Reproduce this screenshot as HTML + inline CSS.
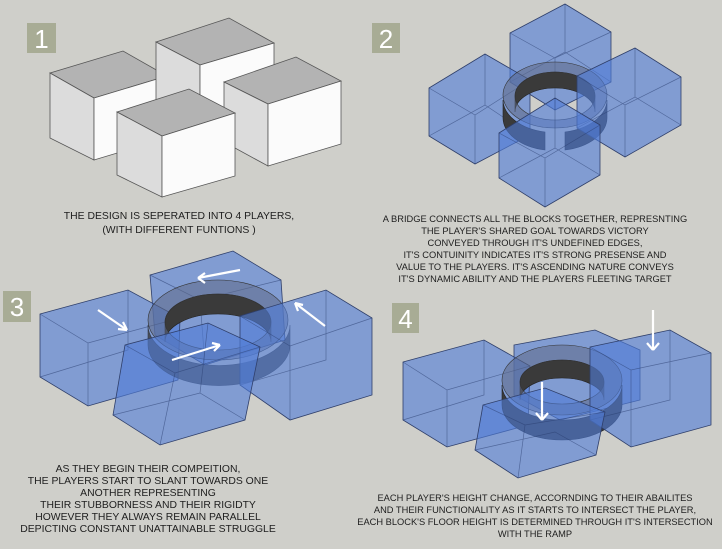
<!DOCTYPE html>
<html><head><meta charset="utf-8"><style>
html,body{margin:0;padding:0;background:#cfcfca;}
svg{display:block}
text{font-family:"Liberation Sans",sans-serif;font-size:9.3px;fill:#1e1e1e;text-anchor:middle}
.big{font-size:10.4px}
.lb{font-size:26px;fill:#fff;text-anchor:middle}
.b{fill:rgba(80,125,215,0.62);stroke:#2f3f6a;stroke-width:0.8}
.e{fill:none;stroke:rgba(40,60,110,0.55);stroke-width:0.7}
.r{fill:#3a3a3a;stroke:#222;stroke-width:0.6}
.t{fill:rgba(95,105,135,0.55);stroke:#333;stroke-width:0.6;fill-rule:evenodd}
.a{stroke:#fff;stroke-width:2.2;fill:none}
</style></head><body>
<svg width="722" height="549" viewBox="0 0 722 549">
<rect width="722" height="549" fill="#cfcfca"/>
<rect x="27" y="23" width="29" height="30" fill="#a8ac95"/><text class="lb" x="41.5" y="48">1</text>
<rect x="372" y="23" width="28" height="30" fill="#a8ac95"/><text class="lb" x="386" y="48">2</text>
<rect x="3" y="291" width="28" height="31" fill="#a8ac95"/><text class="lb" x="17" y="316">3</text>
<rect x="392" y="303" width="27" height="30" fill="#a8ac95"/><text class="lb" x="405.5" y="328">4</text>

<!-- Panel 1 -->
<g stroke="#555" stroke-width="0.8">
<polygon points="50,73 123,51 167,76 94,98" fill="#b3b3b3"/>
<polygon points="50,73 94,98 94,160 50,138" fill="#dcdcdc"/>
<polygon points="94,98 167,76 167,138 94,160" fill="#fbfbfb"/>
<polygon points="156,42 229,18 274,43 200,65" fill="#b3b3b3"/>
<polygon points="156,42 200,65 200,125 156,102" fill="#dcdcdc"/>
<polygon points="200,65 274,43 274,103 200,125" fill="#fbfbfb"/>
<polygon points="224,82 296,57 341,81 268,104" fill="#b3b3b3"/>
<polygon points="224,82 268,104 268,166 224,142" fill="#dcdcdc"/>
<polygon points="268,104 341,81 341,144 268,166" fill="#fbfbfb"/>
<polygon points="117,112 189,89 235,113 162,136" fill="#b3b3b3"/>
<polygon points="117,112 162,136 162,197 117,175" fill="#dcdcdc"/>
<polygon points="162,136 235,113 235,176 162,197" fill="#fbfbfb"/>
</g>
<text class="big" x="179" y="219">THE DESIGN IS SEPERATED INTO 4 PLAYERS,</text>
<text class="big" x="179" y="233">(WITH DIFFERENT FUNTIONS )</text>

<!-- Panel 2 -->
<polygon class="b" points="510,33 565,4 611,32 611,82 555,110 510,82"/>
<path class="e" d="M510,33 L555,58 L611,32 M555,58 L555,110 M565,4 L565,52 L510,82 M565,52 L611,82"/>
<polygon class="b" points="429,88 485,54 530,80 530,135 475,164 429,136"/>
<path class="e" d="M429,88 L475,115 L530,80 M475,115 L475,164 M485,54 L485,105 L429,136 M485,105 L530,135"/>
<path class="r" d="M515,96 A40,24 0 0 1 595,96 L595,112 A40,24 0 0 0 515,112Z" fill="#444"/>
<path class="r" d="M503,100 A52,33 0 0 0 545,132 L545,150 A52,33 0 0 1 503,118Z" fill="#3d3d3d"/>
<path class="r" d="M565,132 A52,33 0 0 0 607,100 L607,118 A52,33 0 0 1 565,150Z" fill="#3d3d3d"/>
<path class="t" d="M503,95 A52,33 0 1 1 607,95 A52,33 0 1 1 503,95Z M515,96 A40,24 0 1 0 595,96 A40,24 0 1 0 515,96Z"/>
<polygon class="b" points="577,76 635,48 681,77 681,125 625,157 577,128"/>
<path class="e" d="M577,76 L625,105 L681,77 M625,105 L625,157 M635,48 L635,97 L577,128 M635,97 L681,125"/>
<polygon class="b" points="499,133 555,98 600,125 600,175 545,207 499,178"/>
<path class="e" d="M499,133 L545,158 L600,125 M545,158 L545,207 M555,98 L555,148 L499,178 M555,148 L600,175"/>
<text x="535" y="222">A BRIDGE CONNECTS ALL THE BLOCKS TOGETHER, REPRESNTING</text>
<text x="535" y="234">THE PLAYER'S SHARED GOAL TOWARDS VICTORY</text>
<text x="535" y="246">CONVEYED THROUGH IT'S UNDEFINED EDGES,</text>
<text x="535" y="258">IT'S CONTUINITY INDICATES IT'S STRONG PRESENSE AND</text>
<text x="535" y="270">VALUE TO THE PLAYERS. IT'S ASCENDING NATURE CONVEYS</text>
<text x="535" y="282">IT'S DYNAMIC ABILITY AND THE PLAYERS FLEETING TARGET</text>

<!-- Panel 3 -->
<polygon class="b" points="150,275 233,251 281,280 285,340 205,365 155,335"/>
<path class="e" d="M150,275 L200,300 L281,280 M200,300 L205,365"/>
<polygon class="b" points="40,314 128,290 180,318 178,380 88,406 40,377"/>
<path class="e" d="M40,314 L88,343 L180,318 M88,343 L88,406 M128,290 L128,350 L40,377"/>
<path class="r" d="M165,322 A53,28 0 0 1 271,322 L271,342 A53,28 0 0 0 165,342Z" fill="#444"/>
<path class="r" d="M148,325 A70,40 0 0 0 290,325 L290,345 A70,40 0 0 1 148,345Z" fill="#3d3d3d" opacity="0.8"/>
<path class="t" d="M148,320 A70,40 0 1 1 288,320 A70,40 0 1 1 148,320Z M165,322 A53,28 0 1 0 271,322 A53,28 0 1 0 165,322Z"/>
<polygon class="b" points="240,316 326,290 372,318 372,395 290,420 240,385"/>
<path class="e" d="M240,316 L290,346 L372,318 M290,346 L290,420 M326,290 L326,360 L240,385"/>
<polygon class="b" points="125,345 208,323 260,347 245,420 160,445 113,415"/>
<path class="e" d="M125,345 L175,373 L260,347 M175,373 L160,445 M113,415 L200,393 L245,420 M200,393 L208,323"/>
<g class="a">
<path d="M98,310 L127,330 M127,330 L118,329 M127,330 L123,322"/>
<path d="M240,270 L198,278 M198,278 L205,273 M198,278 L205,283"/>
<path d="M172,360 L220,345 M220,345 L212,343 M220,345 L214,351"/>
<path d="M325,326 L295,303 M295,303 L298,311 M295,303 L303,305"/>
</g>
<text class="big" x="148" y="472">AS THEY BEGIN THEIR COMPEITION,</text>
<text class="big" x="148" y="484">THE PLAYERS START TO SLANT TOWARDS ONE</text>
<text class="big" x="148" y="496">ANOTHER REPRESENTING</text>
<text class="big" x="148" y="508">THEIR STUBBORNESS AND THEIR RIGIDTY</text>
<text class="big" x="148" y="520">HOWEVER THEY ALWAYS REMAIN PARALLEL</text>
<text class="big" x="148" y="532">DEPICTING CONSTANT UNATTAINABLE STRUGGLE</text>

<!-- Panel 4 -->
<polygon class="b" points="514,345 595,330 640,350 640,400 560,420 514,395"/>
<polygon class="b" points="403,362 484,340 530,366 528,425 447,447 403,420"/>
<path class="e" d="M403,362 L447,390 L530,366 M447,390 L447,447 M484,340 L484,395 L403,420"/>
<path class="r" d="M520,382 A42,22 0 0 1 604,382 L604,400 A42,22 0 0 0 520,400Z" fill="#444"/>
<path class="r" d="M502,385 A60,35 0 0 0 622,385 L622,405 A60,35 0 0 1 502,405Z" fill="#3d3d3d"/>
<path class="t" d="M502,380 A60,35 0 1 1 622,380 A60,35 0 1 1 502,380Z M520,382 A42,22 0 1 0 604,382 A42,22 0 1 0 520,382Z"/>
<polygon class="b" points="590,347 670,330 711,353 711,425 631,447 590,420"/>
<path class="e" d="M590,347 L631,370 L711,353 M631,370 L631,447 M670,330 L670,400 L590,420"/>
<polygon class="b" points="483,405 545,388 605,412 596,455 518,478 475,450"/>
<path class="e" d="M483,405 L525,425 L605,412 M525,425 L518,478 M475,450 L555,432 L596,455"/>
<g class="a">
<path d="M653,310 L653,350 M653,350 L647,343 M653,350 L659,343"/>
<path d="M542,382 L542,420 M542,420 L536,413 M542,420 L548,413"/>
</g>
<text x="535" y="501">EACH PLAYER'S HEIGHT CHANGE, ACCORNDING TO THEIR ABAILITES</text>
<text x="535" y="513">AND THEIR FUNCTIONALITY AS IT STARTS TO INTERSECT THE PLAYER,</text>
<text x="535" y="525">EACH BLOCK'S FLOOR HEIGHT IS DETERMINED THROUGH IT'S INTERSECTION</text>
<text x="535" y="537">WITH THE RAMP</text>
</svg>
</body></html>
